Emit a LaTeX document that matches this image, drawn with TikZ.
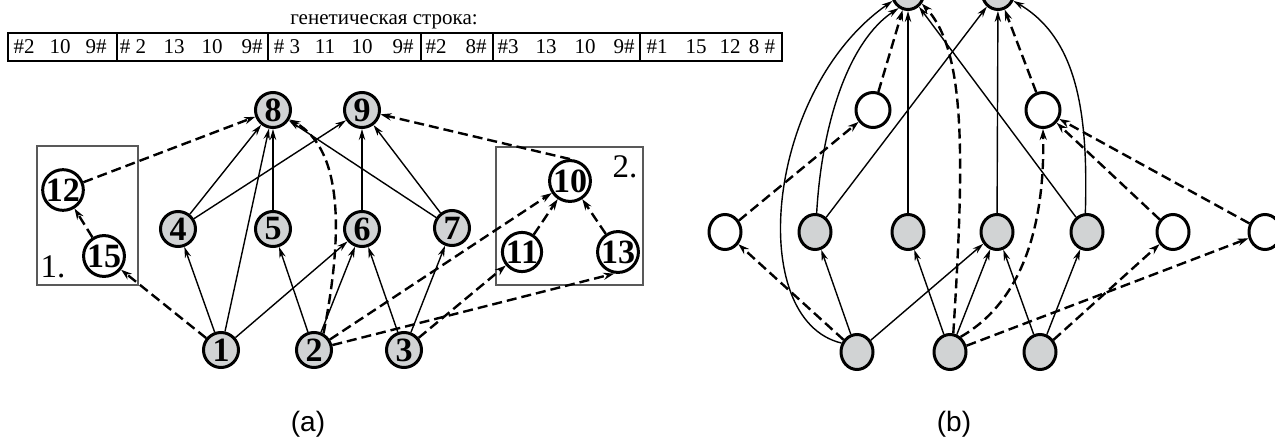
\documentclass[tikz,border=0pt]{standalone}
\usepackage{fontspec}
\setmainfont{Liberation Serif}
\newfontfamily\arialfont{Liberation Sans}
\usetikzlibrary{arrows.meta,shapes.geometric}
\definecolor{nodegray}{RGB}{209,211,212}
\begin{document}
\begin{tikzpicture}[x=0.5pt,y=-0.5pt,
  anode/.style={circle, draw=black, line width=1.5pt, fill=nodegray, minimum size=17.5pt, inner sep=0pt, font=\bfseries\fontsize{17}{17}\selectfont},
  wnode/.style={anode, fill=white},
  bnode/.style={ellipse, draw=black, line width=1.5pt, fill=nodegray, minimum width=16pt, minimum height=17.5pt, inner sep=0pt},
  bwnode/.style={bnode, fill=white},
  bcnode/.style={bwnode, minimum width=17pt},
  sol/.style={line width=0.7pt, -{Stealth[length=5.5pt,width=3.2pt]}},
  dsh/.style={line width=1.2pt, dash pattern=on 5pt off 2.5pt, -{Stealth[length=5.5pt,width=3.6pt]}},
  grp/.style={draw=black!65, line width=0.6pt},
  cellbox/.style={draw=black, line width=0.6pt},
  tok/.style={font=\fontsize{10.5}{12}\selectfont, inner sep=0pt, anchor=center},
  biglab/.style={font=\fontsize{16.5}{18}\selectfont, inner sep=0pt},
  caplab/.style={font=\arialfont\fontsize{14}{16}\selectfont, inner sep=0pt}
]
\useasboundingbox (0,0) rectangle (1275,439);

% genetic string
\node[tok] (title) at (384,22) {генетическая строка:};
\draw[cellbox] (8,33) rectangle (782,61);
\draw[cellbox] (117,33) -- (117,61);
\draw[cellbox] (268,33) -- (268,61);
\draw[cellbox] (421,33) -- (421,61);
\draw[cellbox] (493,33) -- (493,61);
\draw[cellbox] (640,33) -- (640,61);
\node[tok] (t1) at (24,47) {\#2};
\node[tok] (t2) at (60,47) {10};
\node[tok] (t3) at (96,47) {9\#};
\node[tok] (t4) at (133,47) {\# 2};
\node[tok] (t5) at (174,47) {13};
\node[tok] (t6) at (212,47) {10};
\node[tok] (t7) at (252,47) {9\#};
\node[tok] (t8) at (287,47) {\# 3};
\node[tok] (t9) at (325,47) {11};
\node[tok] (t10) at (362,47) {10};
\node[tok] (t11) at (403,47) {9\#};
\node[tok] (t12) at (436,47) {\#2};
\node[tok] (t13) at (476,47) {8\#};
\node[tok] (t14) at (508,47) {\#3};
\node[tok] (t15) at (546,47) {13};
\node[tok] (t16) at (585,47) {10};
\node[tok] (t17) at (624,47) {9\#};
\node[tok] (t18) at (657,47) {\#1};
\node[tok] (t19) at (696,47) {15};
\node[tok] (t20) at (730,47) {12};
\node[tok] (t21) at (762,47) {8 \#};

% (a) groups
\draw[grp] (37,146) rectangle (138,285);
\node[biglab] (lab1) at (53,267) {1.};
\draw[grp] (496,147) rectangle (643,285);
\node[biglab] (lab2) at (625,167) {2.};

% (a) nodes
\node[anode] (a8) at (273,110) {8};
\node[anode] (a9) at (362,110) {9};
\node[wnode] (a12) at (63,190) {12};
\node[wnode] (a15) at (104,256) {15};
\node[anode] (a4) at (178,229) {4};
\node[anode] (a5) at (273,229) {5};
\node[anode] (a6) at (362,229) {6};
\node[anode] (a7) at (452,228) {7};
\node[wnode] (a10) at (570,181) {10};
\node[wnode] (a11) at (522,252) {11};
\node[wnode] (a13) at (618,252) {13};
\node[anode] (a1) at (221,350) {1};
\node[anode] (a2) at (314,350) {2};
\node[anode] (a3) at (404,350) {3};

% (a) edges
\draw[sol] (a1) -- (a4);
\draw[sol] (a1) -- (a8);
\draw[sol] (a1) -- (a6);
\draw[sol] (a2) -- (a5);
\draw[sol] (a2) -- (a6);
\draw[sol] (a3) -- (a6);
\draw[sol] (a3) -- (a7);
\draw[sol] (a4) -- (a8);
\draw[sol] (a4) -- (a9);
\draw[sol] (a5) -- (a8);
\draw[sol] (a6) -- (a9);
\draw[sol] (a7) -- (a8);
\draw[sol] (a7) -- (a9);
\draw[dsh] (a1) -- (a15);
\draw[dsh] (a15) -- (a12);
\draw[dsh] (a12) -- (a8);
\draw[dsh] (a2.60) .. controls (342,240) and (345,150) .. (a8.-30);
\draw[dsh] (a2) -- (a10);
\draw[dsh] (a2.15) -- (a13.-100);
\draw[dsh] (a3) -- (a11);
\draw[dsh] (a11) -- (a10);
\draw[dsh] (a13) -- (a10);
\draw[dsh] (a10.north) -- (a9);

% (b) nodes
\node[bnode] (b8) at (908,-8) {};
\node[bnode] (b9) at (998,-8) {};
\node[bcnode] (b12) at (873,110) {};
\node[bcnode] (b10) at (1043,110) {};
\node[bwnode] (b15) at (725,232) {};
\node[bnode] (b4) at (815,232) {};
\node[bnode] (b5) at (908,232) {};
\node[bnode] (b6) at (997,232) {};
\node[bnode] (b7) at (1087,232) {};
\node[bwnode] (b11) at (1173,232) {};
\node[bwnode] (b13) at (1265,232) {};
\node[bnode] (b1) at (857,352) {};
\node[bnode] (b2) at (950,352) {};
\node[bnode] (b3) at (1040,352) {};

% (b) edges
\draw[dsh] (b1) -- (b15);
\draw[sol] (b1) -- (b4);
\draw[sol] (b1) -- (b6);
\draw[sol] (b1.150) .. controls (745,320) and (765,90) .. (b8.-150);
\draw[sol] (b2) -- (b5);
\draw[sol] (b2) -- (b6);
\draw[dsh] (b2.80) .. controls (965,150) and (965,50) .. (b8.-40);
\draw[dsh] (b2.55) .. controls (1025,300) and (1045,220) .. (b10.south);
\draw[dsh] (b2) -- (b13);
\draw[sol] (b3) -- (b6);
\draw[sol] (b3) -- (b7);
\draw[dsh] (b3) -- (b11);
\draw[dsh] (b15) -- (b12);
\draw[dsh] (b11) -- (b10);
\draw[dsh] (b13) -- (b10);
\draw[dsh] (b12) -- (b8);
\draw[dsh] (b10) -- (b9);
\draw[sol] (b4.85) .. controls (822,120) and (850,40) .. (b8.-120);
\draw[sol] (b4) -- (b9);
\draw[sol] (b5) -- (b8);
\draw[sol] (b6) -- (b9);
\draw[sol] (b7) -- (b8);
\draw[sol] (b7.95) .. controls (1088,120) and (1080,40) .. (b9.-30);

% captions
\node[caplab] (capa) at (308,424) {(a)};
\node[caplab] (capb) at (954,424) {(b)};
\end{tikzpicture}
\end{document}
